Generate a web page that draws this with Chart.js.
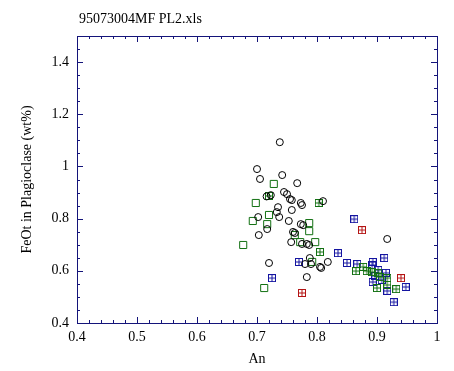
<!DOCTYPE html>
<html>
<head>
<meta charset="utf-8">
<script src="https://cdn.jsdelivr.net/npm/chart.js@4.4.0/dist/chart.umd.min.js"></script>
<style>
html, body { margin: 0; padding: 0; background: #fff; }
#wrap { width: 454px; height: 371px; }
</style>
</head>
<body>
<div id="wrap"><canvas id="myChartPL2"></canvas></div>
<script>
// An (x) and FeOt (y), one pair of arrays per marker type
const circAn  = [0.738, 0.700, 0.705, 0.742, 0.767, 0.745, 0.750, 0.755, 0.758, 0.773, 0.775, 0.723, 0.716, 0.810, 0.735, 0.758, 0.733, 0.702, 0.737, 0.753, 0.773, 0.777, 0.717, 0.703, 0.760, 0.763, 0.757, 0.775, 0.783, 0.787, 0.788, 0.780, 0.790, 0.818, 0.805, 0.807, 0.720, 0.783, 0.917];
const circFeO = [1.093, 0.990, 0.952, 0.967, 0.936, 0.902, 0.894, 0.875, 0.871, 0.860, 0.852, 0.890, 0.885, 0.867, 0.844, 0.833, 0.825, 0.806, 0.806, 0.791, 0.779, 0.775, 0.760, 0.737, 0.749, 0.745, 0.710, 0.703, 0.703, 0.699, 0.649, 0.626, 0.626, 0.634, 0.615, 0.611, 0.630, 0.576, 0.722];

const sqAn  = [0.728, 0.698, 0.693, 0.717, 0.720, 0.787, 0.787, 0.763, 0.772, 0.797, 0.677, 0.792, 0.712];
const sqFeO = [0.933, 0.860, 0.791, 0.779, 0.814, 0.783, 0.752, 0.737, 0.710, 0.710, 0.699, 0.634, 0.534];

const grnAn  = [0.720, 0.803, 0.805, 0.865, 0.877, 0.883, 0.892, 0.902, 0.905, 0.917, 0.917, 0.900, 0.932];
const grnFeO = [0.887, 0.860, 0.672, 0.599, 0.615, 0.599, 0.595, 0.592, 0.576, 0.572, 0.546, 0.534, 0.530];

const bluAn  = [0.862, 0.835, 0.770, 0.725, 0.850, 0.867, 0.893, 0.892, 0.912, 0.902, 0.915, 0.897, 0.893, 0.908, 0.917, 0.948, 0.928];
const bluFeO = [0.798, 0.668, 0.634, 0.572, 0.630, 0.626, 0.634, 0.622, 0.649, 0.603, 0.592, 0.580, 0.557, 0.565, 0.523, 0.538, 0.480];

const redAn  = [0.875, 0.775, 0.940];
const redFeO = [0.756, 0.515, 0.572];

const xTicks = [0.4, 0.5, 0.6, 0.7, 0.8, 0.9, 1];
const yTicks = [0.4, 0.6, 0.8, 1, 1.2, 1.4];

const axisColor = '#14147a';
const serif = '"Liberation Serif", "DejaVu Serif", serif';

function pts(xs, ys) {
    return xs.map((v, i) => ({ x: v, y: ys[i] }));
}

// little square with a plus inside, used as point image
function boxedPlus(color) {
    const c = document.createElement('canvas');
    c.width = 8;
    c.height = 8;
    const g = c.getContext('2d');
    g.strokeStyle = color;
    g.lineWidth = 1;
    g.strokeRect(0.5, 0.5, 7, 7);
    g.beginPath();
    g.moveTo(4, 0.5); g.lineTo(4, 7.5);
    g.moveTo(0.5, 4); g.lineTo(7.5, 4);
    g.stroke();
    return c;
}

const frame = {
    id: 'frame',
    afterDraw(chart) {
        const { ctx, chartArea: a } = chart;
        const x = chart.scales.x, y = chart.scales.y;
        ctx.save();
        ctx.strokeStyle = axisColor;
        ctx.lineWidth = 1;
        ctx.strokeRect(Math.round(a.left) + 0.5, Math.round(a.top) + 0.5,
            Math.round(a.right - a.left), Math.round(a.bottom - a.top));
        ctx.beginPath();
        for (let i = 0; i <= 30; i++) {
            const px = Math.round(x.getPixelForValue(0.4 + i * 0.02)) + 0.5;
            const len = i % 5 === 0 ? 6 : 3;
            ctx.moveTo(px, a.bottom); ctx.lineTo(px, a.bottom - len);
            ctx.moveTo(px, a.top); ctx.lineTo(px, a.top + len);
        }
        for (let i = 0; i <= 22; i++) {
            const py = Math.round(y.getPixelForValue(0.4 + i * 0.05)) + 0.5;
            const len = i % 4 === 0 ? 6 : 3;
            ctx.moveTo(a.left, py); ctx.lineTo(a.left + len, py);
            ctx.moveTo(a.right, py); ctx.lineTo(a.right - len, py);
        }
        ctx.stroke();
        ctx.fillStyle = '#000';
        ctx.font = '14px ' + serif;
        ctx.textBaseline = 'alphabetic';
        ctx.fillText('95073004MF PL2.xls', a.left + 2, 23);
        ctx.restore();
    }
};

const ctxPL2 = document.getElementById('myChartPL2');

new Chart(ctxPL2, {
    type: 'scatter',
    data: {
        datasets: [
            {
                label: 'circles',
                data: pts(circAn, circFeO),
                pointStyle: 'circle',
                pointRadius: 3.5,
                borderWidth: 1,
                borderColor: '#000',
                backgroundColor: 'rgba(0,0,0,0)'
            },
            {
                label: 'squares',
                data: pts(sqAn, sqFeO),
                pointStyle: 'rect',
                pointRadius: 5,
                borderWidth: 1,
                borderColor: '#127012',
                backgroundColor: 'rgba(0,0,0,0)'
            },
            {
                label: 'green boxed',
                data: pts(grnAn, grnFeO),
                pointStyle: boxedPlus('#127012')
            },
            {
                label: 'blue boxed',
                data: pts(bluAn, bluFeO),
                pointStyle: boxedPlus('#1414a0')
            },
            {
                label: 'red boxed',
                data: pts(redAn, redFeO),
                pointStyle: boxedPlus('#b41414')
            }
        ]
    },
    options: {
        responsive: true,
        maintainAspectRatio: false,
        animation: false,
        layout: {
            padding: { top: 36, right: 17, left: 0, bottom: 0 }
        },
        scales: {
            x: {
                type: 'linear',
                min: 0.4,
                max: 1,
                grid: { display: false, drawTicks: false, tickLength: 0 },
                border: { display: false },
                afterBuildTicks: (s) => { s.ticks = xTicks.map(v => ({ value: v })); },
                afterFit: (s) => { s.height = 48; },
                ticks: {
                    color: '#000',
                    padding: 6,
                    maxRotation: 0,
                    font: { family: serif, size: 14 },
                    callback: (v) => String(v)
                },
                title: {
                    display: true,
                    text: 'An',
                    color: '#000',
                    font: { family: serif, size: 14 },
                    padding: { top: 0, bottom: 3 }
                }
            },
            y: {
                type: 'linear',
                min: 0.4,
                max: 1.5,
                grid: { display: false, drawTicks: false, tickLength: 0 },
                border: { display: false },
                afterBuildTicks: (s) => { s.ticks = yTicks.map(v => ({ value: v })); },
                afterFit: (s) => { s.width = 77; },
                ticks: {
                    color: '#000',
                    padding: 8,
                    font: { family: serif, size: 14 },
                    callback: (v) => String(v)
                },
                title: {
                    display: true,
                    text: 'FeOt in Plagioclase (wt%)',
                    color: '#000',
                    font: { family: serif, size: 14 },
                    padding: { top: 19, bottom: 0 }
                }
            }
        },
        plugins: {
            legend: { display: false },
            tooltip: { enabled: false }
        }
    },
    plugins: [frame]
});
</script>
</body>
</html>
